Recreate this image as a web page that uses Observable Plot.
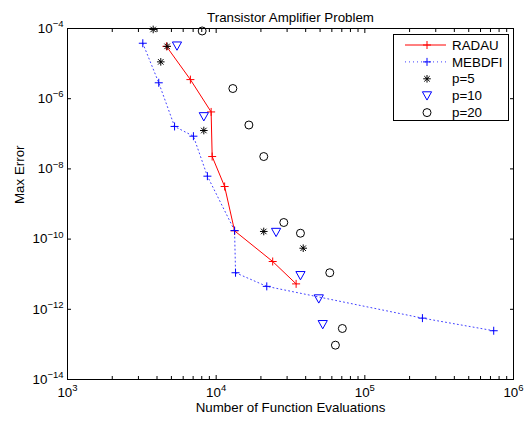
<!DOCTYPE html>
<html>
<head>
<meta charset="utf-8">
<script src="https://cdn.jsdelivr.net/npm/d3@7"></script>
<script src="https://cdn.jsdelivr.net/npm/@observablehq/plot@0.6"></script>
<style>
  html, body { margin: 0; padding: 0; background: #fff; }
  #chart svg { display: block; }
</style>
</head>
<body>
<div id="chart"></div>
<script>
// Work (function evaluations) vs. accuracy (max error) for each solver run
const radauEvals  = [4630, 6710, 9250, 9400, 11400, 13300, 24000, 34500];
const radauError  = [3.1e-5, 3.5e-6, 4.2e-7, 2.25e-8, 3.15e-9, 1.72e-10, 2.3e-11, 5.3e-12];

const mebdfiEvals = [3210, 4110, 5250, 7030, 8730, 13300, 13500, 21900, 244000, 736000];
const mebdfiError = [3.8e-5, 2.84e-6, 1.62e-7, 8.55e-8, 6.2e-9, 1.75e-10, 1.1e-11, 4.5e-12, 5.6e-13, 2.45e-13];

const p5Evals  = [3770, 4680, 4240, 8260, 20900, 38500];
const p5Error  = [9.4e-5, 3.1e-5, 1.12e-5, 1.24e-7, 1.65e-10, 5.5e-11];

const p10Evals = [5450, 8260, 25300, 36900, 49000, 52100];
const p10Error = [3.2e-5, 3.1e-7, 1.57e-10, 9.2e-12, 2.0e-12, 3.7e-13];

const p20Evals = [8050, 12950, 16600, 20900, 28500, 36900, 58100, 70600, 63400];
const p20Error = [8.5e-5, 1.95e-6, 1.78e-7, 2.25e-8, 2.97e-10, 1.47e-10, 1.1e-11, 2.84e-13, 9.5e-14];

// Axis ticks
const xMajor = [1e3, 1e4, 1e5, 1e6];
const yMajor = [1e-14, 1e-12, 1e-10, 1e-8, 1e-6, 1e-4];
const xMinor = [1e3, 1e4, 1e5].flatMap(d => d3.range(2, 10).map(k => k * d));

const seriesNames = ["RADAU", "MEBDFI", "p=5", "p=10", "p=20"];

const rows = (xs, ys) => xs.map((x, i) => ({x, y: ys[i]}));
const radau  = rows(radauEvals, radauError);
const mebdfi = rows(mebdfiEvals, mebdfiError);
const p5  = rows(p5Evals, p5Error);
const p10 = rows(p10Evals, p10Error);
const p20 = rows(p20Evals, p20Error);

// Stroked marker shapes in the style of classic engineering plots
const rad = s => Math.sqrt(s / Math.PI);
const plusSym = {draw(c, s) { const r = rad(s);
  c.moveTo(-r, 0); c.lineTo(r, 0); c.moveTo(0, -r); c.lineTo(0, r); }};
const starSym = {draw(c, s) { const r = rad(s), d = r * 0.72;
  c.moveTo(-r, 0); c.lineTo(r, 0); c.moveTo(0, -r); c.lineTo(0, r);
  c.moveTo(-d, -d); c.lineTo(d, d); c.moveTo(-d, d); c.lineTo(d, -d); }};
const triDownSym = {draw(c, s) { const r = rad(s);
  c.moveTo(-r, -0.85 * r); c.lineTo(r, -0.85 * r); c.lineTo(0, 0.95 * r); c.closePath(); }};

const FONT = '"Liberation Sans", Arial, Helvetica, sans-serif';
const pow = d => "10^" + Math.round(Math.log10(d));
const blank = () => "";

const chart = Plot.plot({
  width: 524,
  height: 425,
  marginLeft: 67,
  marginRight: 11,
  marginTop: 28,
  marginBottom: 46,
  style: {fontFamily: FONT, fontSize: "13.33px", color: "black", background: "white"},
  x: {type: "log", domain: [1e3, 1e6]},
  y: {type: "log", domain: [1e-14, 1e-4]},
  marks: [
    Plot.axisX(xMinor, {anchor: "bottom", tickSize: -3, tickPadding: 0, tickFormat: blank, label: null}),
    Plot.axisX(xMinor, {anchor: "top", tickSize: -3, tickPadding: 0, tickFormat: blank, label: null}),
    Plot.axisX(xMajor, {anchor: "bottom", tickSize: -4, tickPadding: 12, tickFormat: pow, label: null}),
    Plot.axisX(xMajor, {anchor: "top", tickSize: -4, tickPadding: 0, tickFormat: blank, label: null}),
    Plot.axisY(yMajor, {anchor: "left", tickSize: -4, tickPadding: 8, tickFormat: pow, label: null}),
    Plot.axisY(yMajor, {anchor: "right", tickSize: -4, tickPadding: 0, tickFormat: blank, label: null}),
    Plot.frame({stroke: "black", strokeWidth: 1}),

    Plot.line(radau, {x: "x", y: "y", stroke: "#ff0000", strokeWidth: 1}),
    Plot.line(mebdfi, {x: "x", y: "y", stroke: "#0000ff", strokeWidth: 1, strokeDasharray: "1,3", strokeOpacity: 0.75}),

    Plot.dot(radau,  {x: "x", y: "y", symbol: plusSym, r: 4, stroke: "#ff0000", fill: "none", strokeWidth: 1}),
    Plot.dot(mebdfi, {x: "x", y: "y", symbol: plusSym, r: 4, stroke: "#0000ff", fill: "none", strokeWidth: 1}),
    Plot.dot(p5,  {x: "x", y: "y", symbol: starSym, r: 3.8, stroke: "black", fill: "none", strokeWidth: 1}),
    Plot.dot(p10, {x: "x", y: "y", symbol: triDownSym, r: 4.6, stroke: "#0000ff", fill: "none", strokeWidth: 1}),
    Plot.dot(p20, {x: "x", y: "y", r: 4, stroke: "black", fill: "none", strokeWidth: 1}),

    Plot.text(["Transistor Amplifier Problem"], {frameAnchor: "top", dy: -16, fontSize: 13.33}),
    Plot.text(["Number of Function Evaluations"], {frameAnchor: "bottom", dy: 32, fontSize: 13.33}),
    Plot.text(["Max Error"], {frameAnchor: "left", dx: -48, rotate: -90, fontSize: 13.33})
  ]
});

// Power-of-ten tick labels with raised exponents
d3.select(chart)
  .selectAll('g[aria-label="x-axis tick label"] text, g[aria-label="y-axis tick label"] text')
  .each(function () {
    const t = this.textContent;
    if (!t.includes("^")) return;
    const [base, exp] = t.split("^");
    const sel = d3.select(this);
    sel.text(null);
    sel.append("tspan").text(base);
    sel.append("tspan").attr("dy", -5.5).attr("font-size", "9.5px").text(exp.replace("-", "\u2212"));
  });

// Legend box in the upper-right corner
const svg = d3.select(chart);
const legend = svg.append("g")
  .attr("font-family", FONT)
  .attr("font-size", "13.33px")
  .attr("text-anchor", "start");
legend.append("rect")
  .attr("x", 393.5).attr("y", 34.5).attr("width", 115).attr("height", 86)
  .attr("fill", "white").attr("stroke", "black").attr("stroke-width", 1);

const legendItems = [
  {line: {stroke: "#ff0000"}, sym: plusSym, r: 4, stroke: "#ff0000"},
  {line: {stroke: "#0000ff", dash: "1,3", opacity: 0.75}, sym: plusSym, r: 4, stroke: "#0000ff"},
  {sym: starSym, r: 3.8, stroke: "black"},
  {sym: triDownSym, r: 4.6, stroke: "#0000ff"},
  {sym: d3.symbolCircle, r: 4, stroke: "black"}
];
legendItems.forEach((it, i) => {
  const cy = 45 + 16.9 * i;
  const g = legend.append("g");
  if (it.line) {
    g.append("line").attr("x1", 405).attr("x2", 446).attr("y1", cy).attr("y2", cy)
      .attr("stroke", it.line.stroke).attr("stroke-width", 1)
      .attr("stroke-dasharray", it.line.dash || null)
      .attr("stroke-opacity", it.line.opacity || null);
  }
  g.append("path")
    .attr("transform", `translate(427,${cy})`)
    .attr("d", d3.symbol(it.sym, it.r * it.r * Math.PI)())
    .attr("fill", "none").attr("stroke", it.stroke).attr("stroke-width", 1);
  g.append("text").attr("x", 452).attr("y", cy).attr("dy", "0.35em")
    .attr("text-anchor", "start").text(seriesNames[i]);
});

document.getElementById("chart").appendChild(chart);
</script>
</body>
</html>
